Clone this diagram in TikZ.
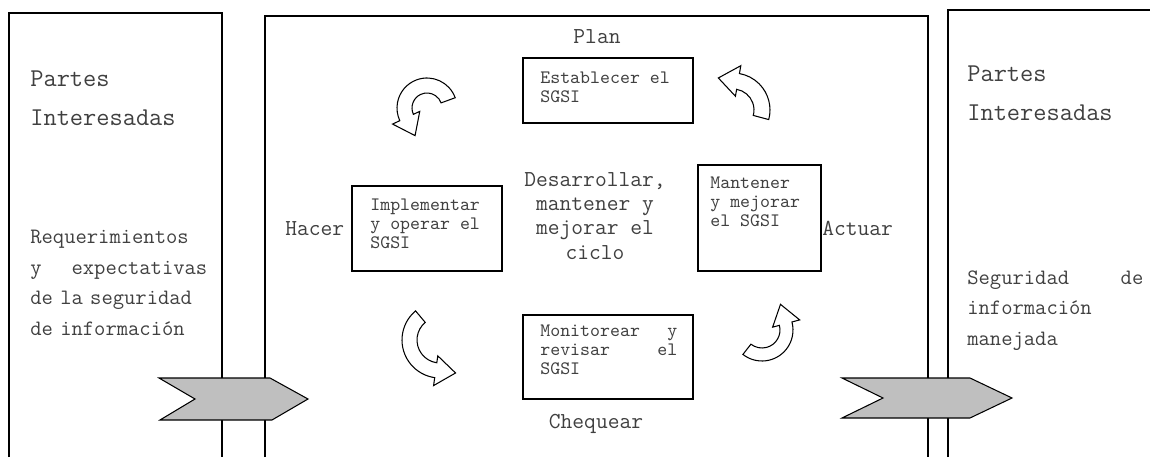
\documentclass[tikz,border=0pt]{standalone}
\usepackage{fontspec}
\usetikzlibrary{calc}

% flecha curva de bloque: centro x, centro y, radio int, radio ext, angulo cola, angulo cabeza
\newcommand{\flechacurva}[6]{%
  \draw[curva] ($(#1,#2)+({#5}:{#4})$) arc[start angle=#5, end angle=#6, radius=#4]
    -- ($(#1,#2)+({#6}:{#4+8})$)
    -- ($(#1,#2)+({#6}:{(#3+#4)/2})+({#6+90}:20)$)
    -- ($(#1,#2)+({#6}:{#3-7})$)
    -- ($(#1,#2)+({#6}:{#3})$)
    arc[start angle=#6, end angle=#5, radius=#3] -- cycle;}

\tikzset{
  marco/.style={line width=0.8pt},
  chevron/.style={draw, line width=0.6pt, fill=black!25},
  curva/.style={draw, line width=0.6pt, fill=white},
  caja/.style={draw, line width=1.2pt, inner sep=0pt, anchor=north west},
  txt/.style={inner sep=0pt, anchor=north west, align=left, text=black!75,
    font=\ttfamily\fontsize{10.8}{10.6}\selectfont},
  parte/.style={inner sep=0pt, anchor=north west, align=left, text=black!75,
    font=\ttfamily\fontsize{14.6}{22.7}\selectfont},
  req/.style={inner sep=0pt, anchor=north west, align=left, text=black!75,
    font=\ttfamily\fontsize{12.5}{17.4}\selectfont},
  fase/.style={inner sep=0pt, text=black!75,
    font=\ttfamily\fontsize{13}{13.8}\selectfont}
}

\begin{document}
\begin{tikzpicture}[x=0.02cm, y=0.02cm]
    \useasboundingbox (0,0) rectangle (1150,457);

    % Marcos
    \draw[marco] (9,0) -- (9,444) -- (222,444) -- (222,0);
    \draw[marco] (265,0) -- (265,441) -- (928,441) -- (928,0);
    \draw[marco] (948,0) -- (948,447) -- (1150,447);

    % Flechas grises de entrada y salida
    \draw[chevron] (159,79) -- (270,79) -- (308,58) -- (272,37) -- (160,37) -- (195,58) -- cycle;
    \draw[chevron] (842,79) -- (970,79) -- (1012,59) -- (970,39) -- (842,39) -- (883,59) -- cycle;

    % Partes interesadas
    \node[parte] (parteizq) at (30,387) {Partes\\Interesadas};
    \node[req, text width=3.54cm] (requisitos) at (30,227)
        {Requerimientos\\y\hfill expectativas\\de la seguridad\\de información};
    \node[parte] (parteder) at (967,392) {Partes\\Interesadas};
    \node[req, text width=3.52cm] (seguridad) at (967,187)
        {Seguridad\hfill de\\información\\manejada};

    % Ciclo PHVA
    \node[caja, minimum width=3.4cm, minimum height=1.3cm] (plan) at (522,400) {};
    \node[txt] (plantxt) at ($(plan.north west)+(18,-15)$) {Establecer el\\SGSI};
    \node[caja, minimum width=3.0cm, minimum height=1.7cm] (hacer) at (351,272) {};
    \node[txt] (hacertxt) at ($(hacer.north west)+(19,-14)$) {Implementar\\y operar el\\SGSI};
    \node[caja, minimum width=2.46cm, minimum height=2.12cm] (actuar) at (697,293) {};
    \node[txt] (actuartxt) at ($(actuar.north west)+(13,-13)$) {Mantener\\y mejorar\\el SGSI};
    \node[caja, minimum width=3.4cm, minimum height=1.68cm] (cheq) at (522,143) {};
    \node[txt, text width=2.74cm] (cheqtxt) at ($(cheq.north west)+(18,-11)$)
        {Monitorear\hfill y\\revisar\hfill el\\SGSI};

    \node[fase, anchor=base] (planlbl) at (597,413) {Plan};
    \node[fase, anchor=base] (cheqlbl) at (596,29) {Chequear};
    \node[fase, anchor=base west] (hacerlbl) at (285,221) {Hacer};
    \node[fase, anchor=base west] (actuarlbl) at (822,221) {Actuar};
    \node[fase, anchor=north, align=center] (ciclo) at (595,285)
        {Desarrollar,\\mantener y\\mejorar el\\ciclo};

    % Flechas curvas
    \flechacurva{427}{349}{15}{30}{20}{205}
    \flechacurva{733}{347}{21}{37}{-15}{80}
    \flechacurva{440}{117}{23}{38}{130}{262}
    \flechacurva{762}{127}{18}{31}{232}{375}
\end{tikzpicture}
\end{document}
